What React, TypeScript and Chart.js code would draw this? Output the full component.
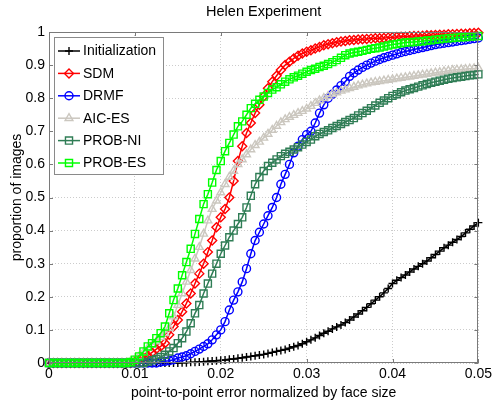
import React, { useEffect, useRef } from 'react';
import { Chart, registerables } from 'chart.js';
import { drawPoint } from 'chart.js/helpers';

Chart.register(...registerables);

const FONT = '"Liberation Sans", Arial, Helvetica, sans-serif';

const chartTitle = 'Helen Experiment';
const xAxisTitle = 'point-to-point error normalized by face size';
const yAxisTitle = 'proportion of images';

const errorThresholds = [
  0, 0.0005, 0.001, 0.0015, 0.002, 0.0025, 0.003, 0.0035, 0.004, 0.0045,
  0.005, 0.0055, 0.006, 0.0065, 0.007, 0.0075, 0.008, 0.0085, 0.009, 0.0095,
  0.01, 0.0105, 0.011, 0.0115, 0.012, 0.0125, 0.013, 0.0135, 0.014, 0.0145,
  0.015, 0.0155, 0.016, 0.0165, 0.017, 0.0175, 0.018, 0.0185, 0.019, 0.0195,
  0.02, 0.0205, 0.021, 0.0215, 0.022, 0.0225, 0.023, 0.0235, 0.024, 0.0245,
  0.025, 0.0255, 0.026, 0.0265, 0.027, 0.0275, 0.028, 0.0285, 0.029, 0.0295,
  0.03, 0.0305, 0.031, 0.0315, 0.032, 0.0325, 0.033, 0.0335, 0.034, 0.0345,
  0.035, 0.0355, 0.036, 0.0365, 0.037, 0.0375, 0.038, 0.0385, 0.039, 0.0395,
  0.04, 0.0405, 0.041, 0.0415, 0.042, 0.0425, 0.043, 0.0435, 0.044, 0.0445,
  0.045, 0.0455, 0.046, 0.0465, 0.047, 0.0475, 0.048, 0.0485, 0.049, 0.0495,
  0.05,
];

const initialization = [
  0, 0, 0, 0, 0, 0, 0, 0, 0, 0,
  0, 0, 0, 0, 0, 0, 0, 0, 0, 0,
  0, 0, 0, 0, 0, 0, 0, 0, 0, 0,
  0, 0.001, 0.001, 0.002, 0.002, 0.003, 0.004, 0.005, 0.006, 0.007,
  0.008, 0.009, 0.011, 0.012, 0.014, 0.016, 0.018, 0.02, 0.022, 0.024,
  0.026, 0.029, 0.032, 0.035, 0.038, 0.041, 0.045, 0.049, 0.053, 0.058,
  0.064, 0.07, 0.076, 0.083, 0.09, 0.096, 0.103, 0.109, 0.115, 0.122,
  0.13, 0.139, 0.148, 0.158, 0.168, 0.179, 0.19, 0.2, 0.212, 0.225,
  0.24, 0.25, 0.258, 0.266, 0.275, 0.284, 0.292, 0.3, 0.308, 0.318,
  0.328, 0.338, 0.348, 0.356, 0.365, 0.373, 0.382, 0.393, 0.404, 0.414,
  0.424,
];

const sdm = [
  0, 0, 0, 0, 0, 0, 0, 0, 0, 0,
  0, 0, 0, 0, 0, 0, 0, 0, 0, 0,
  0.005, 0.01, 0.015, 0.022, 0.032, 0.042, 0.05, 0.06, 0.085, 0.11,
  0.13, 0.155, 0.18, 0.21, 0.24, 0.27, 0.3, 0.335, 0.37, 0.41,
  0.44, 0.465, 0.5, 0.55, 0.61, 0.655, 0.695, 0.725, 0.755, 0.78,
  0.805, 0.83, 0.85, 0.868, 0.885, 0.9, 0.91, 0.92, 0.928, 0.935,
  0.94, 0.945, 0.95, 0.955, 0.96, 0.963, 0.966, 0.969, 0.971, 0.973,
  0.975, 0.976, 0.977, 0.978, 0.979, 0.98, 0.981, 0.981, 0.982, 0.983,
  0.984, 0.985, 0.986, 0.986, 0.987, 0.988, 0.988, 0.989, 0.99, 0.99,
  0.991, 0.992, 0.992, 0.993, 0.993, 0.994, 0.995, 0.995, 0.996, 0.997,
  0.998,
];

const drmf = [
  0, 0, 0, 0, 0, 0, 0, 0, 0, 0,
  0, 0, 0, 0, 0, 0, 0, 0, 0, 0,
  0, 0, 0, 0, 0, 0, 0.003, 0.005, 0.007, 0.01,
  0.015, 0.018, 0.022, 0.028, 0.035, 0.042, 0.05, 0.058, 0.07, 0.085,
  0.1, 0.125, 0.16, 0.19, 0.215, 0.245, 0.285, 0.33, 0.37, 0.395,
  0.42, 0.445, 0.47, 0.5, 0.54, 0.57, 0.6, 0.635, 0.655, 0.675,
  0.69, 0.7, 0.725, 0.755, 0.78, 0.8, 0.812, 0.825, 0.838, 0.85,
  0.866, 0.876, 0.885, 0.893, 0.9, 0.906, 0.912, 0.917, 0.922, 0.926,
  0.93, 0.934, 0.938, 0.941, 0.944, 0.947, 0.95, 0.953, 0.956, 0.959,
  0.962, 0.964, 0.966, 0.968, 0.97, 0.972, 0.974, 0.976, 0.978, 0.98,
  0.982,
];

const aicEs = [
  0, 0, 0, 0, 0, 0, 0, 0, 0, 0,
  0, 0, 0, 0, 0, 0, 0, 0, 0, 0.005,
  0.012, 0.02, 0.032, 0.045, 0.055, 0.065, 0.078, 0.09, 0.105, 0.14,
  0.175, 0.21, 0.245, 0.28, 0.315, 0.35, 0.39, 0.43, 0.465, 0.49,
  0.515, 0.54, 0.562, 0.58, 0.6, 0.615, 0.63, 0.645, 0.658, 0.668,
  0.68, 0.692, 0.704, 0.716, 0.727, 0.736, 0.743, 0.749, 0.755, 0.761,
  0.768, 0.776, 0.785, 0.793, 0.8, 0.806, 0.812, 0.817, 0.822, 0.826,
  0.83, 0.834, 0.838, 0.841, 0.844, 0.847, 0.849, 0.851, 0.853, 0.855,
  0.857, 0.859, 0.861, 0.863, 0.865, 0.867, 0.869, 0.871, 0.873, 0.875,
  0.877, 0.879, 0.881, 0.883, 0.885, 0.886, 0.887, 0.888, 0.889, 0.89,
  0.891,
];

const probNi = [
  0, 0, 0, 0, 0, 0, 0, 0, 0, 0,
  0, 0, 0, 0, 0, 0, 0, 0, 0, 0,
  0, 0, 0, 0.004, 0.008, 0.012, 0.018, 0.025, 0.035, 0.045,
  0.06, 0.075, 0.095, 0.12, 0.15, 0.175, 0.21, 0.24, 0.27, 0.3,
  0.33, 0.355, 0.38, 0.4, 0.42, 0.44, 0.47, 0.505, 0.54, 0.562,
  0.58, 0.595, 0.605, 0.615, 0.625, 0.632, 0.638, 0.645, 0.652, 0.66,
  0.668, 0.675, 0.685, 0.692, 0.698, 0.703, 0.71, 0.716, 0.722, 0.728,
  0.734, 0.74, 0.748, 0.755, 0.762, 0.77, 0.778, 0.786, 0.793, 0.8,
  0.807, 0.812, 0.818, 0.823, 0.827, 0.831, 0.835, 0.839, 0.843, 0.847,
  0.85, 0.853, 0.856, 0.859, 0.861, 0.863, 0.865, 0.867, 0.869, 0.87,
  0.872,
];

const probEs = [
  0, 0, 0, 0, 0, 0, 0, 0, 0, 0,
  0, 0, 0, 0, 0, 0, 0, 0, 0, 0.003,
  0.01, 0.02, 0.035, 0.05, 0.06, 0.075, 0.09, 0.11, 0.15, 0.19,
  0.225, 0.265, 0.305, 0.345, 0.39, 0.435, 0.48, 0.51, 0.545, 0.583,
  0.61, 0.64, 0.665, 0.69, 0.715, 0.73, 0.75, 0.77, 0.783, 0.795,
  0.805, 0.816, 0.826, 0.833, 0.842, 0.85, 0.857, 0.863, 0.868, 0.874,
  0.88, 0.885, 0.889, 0.894, 0.898, 0.903, 0.909, 0.915, 0.922, 0.93,
  0.935, 0.938, 0.94, 0.943, 0.946, 0.949, 0.951, 0.953, 0.956, 0.959,
  0.962, 0.964, 0.966, 0.968, 0.969, 0.97, 0.971, 0.972, 0.974, 0.975,
  0.977, 0.978, 0.98, 0.981, 0.982, 0.983, 0.984, 0.985, 0.986, 0.987,
  0.988,
];

const seriesNames = ['Initialization', 'SDM', 'DRMF', 'AIC-ES', 'PROB-NI', 'PROB-ES'];
const seriesValues = [initialization, sdm, drmf, aicEs, probNi, probEs];
const seriesColors = ['#000000', '#ff0000', '#0000ff', '#cbc7bf', '#2f7d55', '#00ff00'];
const seriesMarkers = ['cross', 'rectRot', 'circle', 'triangle', 'rect', 'rect'];
const markerRadius = [4, 4.5, 4, 4.5, 5, 5];

const decorPlugin = {
  id: 'decor',
  afterDraw(chart: any) {
    const { ctx, chartArea: a, scales } = chart;
    ctx.save();
    ctx.strokeStyle = '#7a7a7a';
    ctx.lineWidth = 1;
    ctx.strokeRect(Math.round(a.left) + 0.5, Math.round(a.top) + 0.5,
      Math.round(a.right - a.left) - 1, Math.round(a.bottom - a.top) - 1);
    ctx.beginPath();
    scales.x.ticks.forEach((t: any) => {
      const px = Math.round(scales.x.getPixelForValue(t.value)) + 0.5;
      ctx.moveTo(px, a.bottom); ctx.lineTo(px, a.bottom - 4);
      ctx.moveTo(px, a.top); ctx.lineTo(px, a.top + 4);
    });
    scales.y.ticks.forEach((t: any) => {
      const py = Math.round(scales.y.getPixelForValue(t.value)) + 0.5;
      ctx.moveTo(a.left, py); ctx.lineTo(a.left + 4, py);
      ctx.moveTo(a.right, py); ctx.lineTo(a.right - 4, py);
    });
    ctx.stroke();

    ctx.fillStyle = '#000';
    ctx.textAlign = 'center';
    ctx.textBaseline = 'middle';
    const cx = (a.left + a.right) / 2;
    ctx.font = `14.5px ${FONT}`;
    ctx.fillText(chartTitle, cx, 12);
    ctx.font = `14px ${FONT}`;
    ctx.fillText(xAxisTitle, cx, 393);
    ctx.save();
    ctx.translate(17, (a.top + a.bottom) / 2);
    ctx.rotate(-Math.PI / 2);
    ctx.fillText(yAxisTitle, 0, 0);
    ctx.restore();

    const lx = 54.5, ly = 37.5, lw = 109, lh = 137;
    ctx.fillStyle = '#ffffff';
    ctx.fillRect(lx, ly, lw, lh);
    ctx.strokeStyle = '#8a8a8a';
    ctx.lineWidth = 1;
    ctx.strokeRect(lx, ly, lw, lh);
    chart.data.datasets.forEach((ds: any, i: number) => {
      const y = 51 + i * 22.4;
      ctx.strokeStyle = ds.borderColor;
      ctx.lineWidth = 1.5;
      ctx.beginPath();
      ctx.moveTo(58, y);
      ctx.lineTo(80, y);
      ctx.stroke();
      ctx.fillStyle = 'rgba(0,0,0,0)';
      ctx.lineWidth = 1.4;
      drawPoint(ctx, { pointStyle: ds.pointStyle, radius: ds.pointRadius, rotation: 0, borderWidth: 1.4 }, 69, y);
      ctx.fillStyle = '#000';
      ctx.font = `14px ${FONT}`;
      ctx.textAlign = 'left';
      ctx.textBaseline = 'middle';
      ctx.fillText(ds.label, 83, y + 0.5);
    });
    ctx.restore();
  },
};

export default function App() {
  const canvasRef = useRef<HTMLCanvasElement | null>(null);

  useEffect(() => {
    if (!canvasRef.current) return;
    const datasets = seriesNames.map((name, i) => ({
      label: name,
      data: errorThresholds.map((x, k) => ({ x, y: seriesValues[i][k] })),
      borderColor: seriesColors[i],
      backgroundColor: 'rgba(0,0,0,0)',
      pointBackgroundColor: 'rgba(0,0,0,0)',
      pointBorderColor: seriesColors[i],
      borderWidth: 1.5,
      pointBorderWidth: 1.4,
      pointStyle: seriesMarkers[i],
      pointRadius: markerRadius[i],
      pointHoverRadius: markerRadius[i],
      fill: false,
      tension: 0,
      clip: 8,
      order: seriesNames.length - 1 - i,
    }));

    const chart = new Chart(canvasRef.current, {
      type: 'line',
      data: { datasets },
      options: {
        animation: false,
        responsive: false,
        maintainAspectRatio: false,
        devicePixelRatio: 1,
        layout: { padding: { top: 32, right: 16, left: 0, bottom: 0 } },
        plugins: {
          legend: { display: false },
          title: { display: false },
          tooltip: { enabled: false },
        },
        scales: {
          x: {
            type: 'linear',
            min: 0,
            max: 0.05,
            afterFit: (s: any) => { s.height = 39; },
            ticks: {
              stepSize: 0.01,
              padding: 3,
              color: '#000',
              font: { family: FONT, size: 14 },
              callback: (v: any) => String(+Number(v).toFixed(3)),
            },
            grid: { color: '#cccccc', lineWidth: 1, drawTicks: false },
            border: { display: false, dash: [1, 2] },
          },
          y: {
            type: 'linear',
            min: 0,
            max: 1,
            afterFit: (s: any) => { s.width = 49; },
            ticks: {
              stepSize: 0.1,
              padding: 4,
              color: '#000',
              font: { family: FONT, size: 14 },
              callback: (v: any) => String(+Number(v).toFixed(2)),
            },
            grid: { color: '#cccccc', lineWidth: 1, drawTicks: false },
            border: { display: false, dash: [1, 2] },
          },
        },
      },
      plugins: [decorPlugin],
    } as any);
    return () => chart.destroy();
  }, []);

  return (
    <div style={{ position: 'fixed', left: 0, top: 0, width: 495, height: 402, background: '#fff' }}>
      <canvas ref={canvasRef} width={495} height={402} style={{ width: 495, height: 402, display: 'block' }} />
    </div>
  );
}
